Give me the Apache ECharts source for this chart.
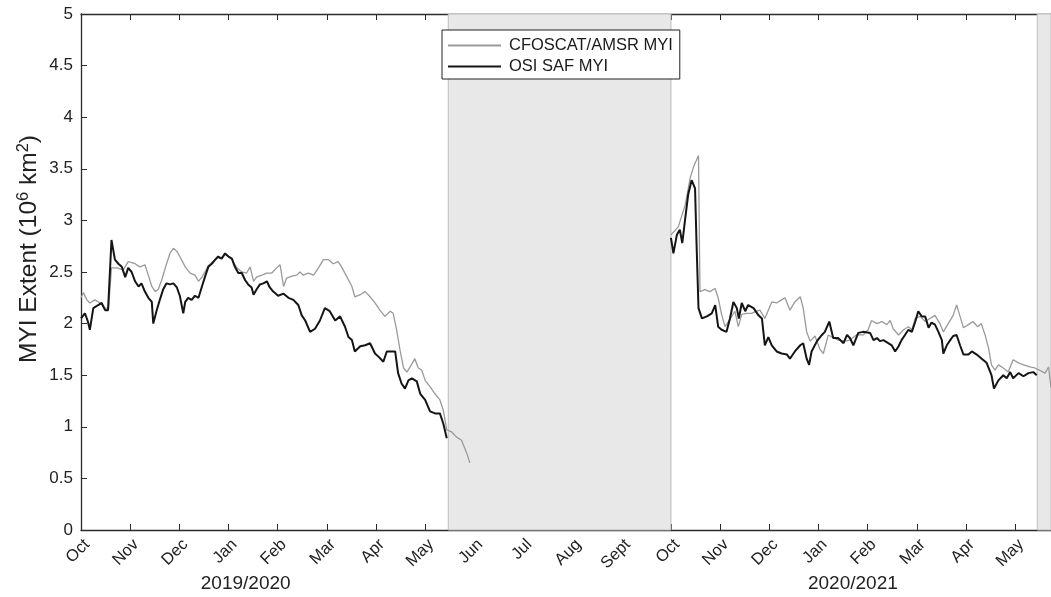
<!DOCTYPE html>
<html>
<head>
<meta charset="utf-8">
<script src="https://cdn.jsdelivr.net/npm/echarts@6/dist/echarts.min.js"></script>
<style>
html,body{margin:0;padding:0;background:#fff;}
#chart{width:1051px;height:597px;}
</style>
</head>
<body>
<div id="chart"></div>
<script>
// x = months since 1 Oct 2019 ; y = MYI extent (10^6 km^2)
const monthLabels = ['Oct','Nov','Dec','Jan','Feb','Mar','Apr','May','Jun','Jul','Aug','Sept','Oct','Nov','Dec','Jan','Feb','Mar','Apr','May'];
const yearLabels = ['2019/2020','2020/2021'];
const yearLabelPos = [3.35, 15.7];
const noDataPeriods = [[7.47, 12.0], [19.45, 19.73]];

const cfoscat1 = [
[0.00,2.25],[0.05,2.30],[0.12,2.23],[0.18,2.20],[0.28,2.23],[0.39,2.20],[0.49,2.15],[0.56,2.15],[0.62,2.54],[0.73,2.54],
[0.86,2.52],[0.96,2.60],[1.10,2.58],[1.20,2.55],[1.30,2.57],[1.37,2.47],[1.44,2.36],[1.51,2.31],[1.57,2.33],[1.64,2.42],
[1.74,2.58],[1.81,2.68],[1.88,2.73],[1.95,2.70],[2.01,2.65],[2.12,2.55],[2.22,2.49],[2.32,2.47],[2.39,2.41],[2.46,2.45],
[2.52,2.50],[2.59,2.56],[2.66,2.59],[2.73,2.62],[2.79,2.64],[2.86,2.63],[2.93,2.67],[3.00,2.65],[3.07,2.62],[3.17,2.54],
[3.27,2.50],[3.37,2.49],[3.44,2.55],[3.51,2.41],[3.57,2.45],[3.68,2.47],[3.78,2.49],[3.88,2.49],[3.98,2.54],[4.05,2.57],
[4.12,2.36],[4.18,2.44],[4.29,2.46],[4.39,2.47],[4.45,2.50],[4.52,2.47],[4.62,2.49],[4.73,2.47],[4.83,2.54],[4.93,2.62],
[5.03,2.62],[5.13,2.58],[5.23,2.60],[5.30,2.55],[5.40,2.46],[5.51,2.36],[5.57,2.26],[5.68,2.28],[5.78,2.31],[5.88,2.26],
[5.98,2.20],[6.08,2.13],[6.18,2.07],[6.29,2.12],[6.35,2.10],[6.42,1.94],[6.49,1.74],[6.56,1.57],[6.63,1.53],[6.73,1.61],
[6.79,1.66],[6.86,1.57],[6.93,1.55],[7.00,1.45],[7.10,1.39],[7.20,1.32],[7.30,1.26],[7.37,1.16],[7.44,0.97],[7.54,0.95],
[7.64,0.90],[7.74,0.87],[7.85,0.74],[7.91,0.65]
];
const osisaf1 = [
[0.00,2.05],[0.08,2.10],[0.14,2.02],[0.18,1.94],[0.25,2.15],[0.35,2.18],[0.42,2.20],[0.49,2.13],[0.55,2.13],[0.62,2.81],
[0.69,2.62],[0.76,2.58],[0.83,2.55],[0.90,2.45],[0.96,2.54],[1.03,2.50],[1.10,2.41],[1.17,2.36],[1.23,2.39],[1.30,2.31],
[1.37,2.25],[1.44,2.21],[1.47,2.00],[1.54,2.13],[1.61,2.24],[1.67,2.33],[1.74,2.39],[1.81,2.38],[1.88,2.39],[1.95,2.35],
[2.01,2.27],[2.08,2.10],[2.12,2.21],[2.18,2.25],[2.25,2.23],[2.32,2.27],[2.39,2.25],[2.46,2.36],[2.52,2.45],[2.59,2.55],
[2.66,2.58],[2.73,2.62],[2.79,2.65],[2.86,2.63],[2.93,2.68],[3.00,2.65],[3.07,2.63],[3.13,2.55],[3.20,2.49],[3.27,2.49],
[3.34,2.42],[3.40,2.38],[3.47,2.35],[3.51,2.28],[3.57,2.33],[3.64,2.38],[3.71,2.39],[3.78,2.41],[3.84,2.35],[3.91,2.31],
[4.01,2.27],[4.05,2.26],[4.12,2.29],[4.22,2.25],[4.32,2.23],[4.42,2.18],[4.49,2.08],[4.56,2.03],[4.66,1.92],[4.76,1.95],
[4.86,2.03],[4.96,2.15],[5.06,2.12],[5.17,2.03],[5.27,2.07],[5.37,1.97],[5.44,1.87],[5.51,1.84],[5.57,1.73],[5.68,1.78],
[5.78,1.79],[5.88,1.81],[5.98,1.71],[6.05,1.68],[6.15,1.63],[6.22,1.73],[6.32,1.73],[6.39,1.73],[6.45,1.52],[6.52,1.42],
[6.59,1.37],[6.66,1.45],[6.73,1.47],[6.83,1.44],[6.90,1.32],[7.00,1.26],[7.10,1.15],[7.20,1.13],[7.30,1.13],[7.37,1.03],
[7.44,0.89]
];
const cfoscat2 = [
[12.00,2.86],[12.15,2.94],[12.29,3.15],[12.39,3.41],[12.46,3.52],[12.56,3.63],[12.59,2.31],[12.69,2.33],[12.79,2.31],[12.90,2.34],
[12.96,2.25],[13.03,2.09],[13.10,1.97],[13.20,2.04],[13.30,2.12],[13.37,1.97],[13.44,2.09],[13.54,2.10],[13.64,2.10],[13.74,2.12],
[13.81,2.13],[13.91,2.05],[14.05,2.21],[14.15,2.20],[14.25,2.23],[14.32,2.25],[14.42,2.13],[14.52,2.21],[14.63,2.26],[14.69,2.15],
[14.76,1.92],[14.83,1.83],[14.93,1.88],[15.03,1.75],[15.10,1.71],[15.20,1.89],[15.27,1.87],[15.40,1.84],[15.54,1.83],[15.64,1.84],
[15.77,1.89],[15.91,1.89],[16.01,1.94],[16.08,2.03],[16.19,2.00],[16.29,2.02],[16.39,1.99],[16.46,2.03],[16.52,1.95],[16.63,1.89],
[16.73,1.94],[16.83,1.97],[16.90,1.94],[16.97,2.05],[17.07,2.07],[17.17,2.02],[17.27,2.05],[17.37,2.08],[17.47,2.00],[17.54,1.92],
[17.64,2.00],[17.74,2.08],[17.81,2.18],[17.88,2.07],[17.95,1.96],[18.05,1.99],[18.14,2.02],[18.24,1.97],[18.31,2.00],[18.39,1.89],
[18.46,1.76],[18.52,1.60],[18.59,1.55],[18.66,1.60],[18.76,1.57],[18.86,1.53],[18.96,1.65],[19.07,1.62],[19.17,1.60],[19.30,1.58],
[19.40,1.57],[19.49,1.55],[19.61,1.52],[19.68,1.58],[19.73,1.38]
];
const osisaf2 = [
[12.00,2.83],[12.05,2.68],[12.12,2.86],[12.18,2.91],[12.23,2.78],[12.29,3.02],[12.35,3.25],[12.42,3.39],[12.49,3.31],[12.52,2.78],
[12.56,2.15],[12.63,2.05],[12.73,2.07],[12.83,2.10],[12.90,2.18],[12.96,1.97],[13.03,1.94],[13.13,1.92],[13.20,2.05],[13.27,2.21],
[13.34,2.15],[13.38,2.05],[13.44,2.20],[13.51,2.12],[13.57,2.18],[13.68,2.15],[13.78,2.08],[13.85,2.05],[13.91,1.79],[13.98,1.87],
[14.05,1.79],[14.15,1.73],[14.25,1.71],[14.36,1.70],[14.42,1.66],[14.52,1.73],[14.63,1.79],[14.69,1.81],[14.76,1.66],[14.81,1.60],
[14.86,1.73],[14.97,1.83],[15.07,1.89],[15.13,1.92],[15.22,2.02],[15.30,1.86],[15.40,1.86],[15.51,1.81],[15.58,1.89],[15.64,1.86],
[15.71,1.79],[15.81,1.91],[15.91,1.92],[16.05,1.91],[16.12,1.84],[16.19,1.86],[16.25,1.83],[16.32,1.84],[16.42,1.81],[16.49,1.79],
[16.56,1.73],[16.63,1.78],[16.69,1.84],[16.76,1.89],[16.83,1.94],[16.90,1.92],[16.97,2.02],[17.03,2.12],[17.10,2.07],[17.17,2.07],
[17.24,1.96],[17.30,2.01],[17.37,1.99],[17.44,1.92],[17.51,1.84],[17.54,1.71],[17.61,1.79],[17.68,1.84],[17.74,1.88],[17.81,1.89],
[17.88,1.79],[17.95,1.70],[18.05,1.70],[18.12,1.73],[18.22,1.70],[18.32,1.66],[18.42,1.62],[18.52,1.50],[18.57,1.37],[18.66,1.45],
[18.76,1.50],[18.83,1.47],[18.90,1.53],[18.96,1.47],[19.07,1.52],[19.17,1.49],[19.27,1.52],[19.37,1.53],[19.44,1.50]
];

const X_MIN = 0, X_MAX = 19.73;
const FONT = '"Liberation Sans", Arial, sans-serif';
const AX = '#2b2b2b';
const GRAY = '#9a9a9a', BLACK = '#151515';

const chart = echarts.init(document.getElementById('chart'), null, {renderer:'canvas'});

chart.setOption({
  animation:false,
  backgroundColor:'#fff',
  grid: {left:81, right:0, top:14, bottom:67, containLabel:false},
  legend: {
    data:['CFOSCAT/AMSR MYI','OSI SAF MYI'],
    orient:'vertical', left:442, top:30,
    backgroundColor:'#fff', borderColor:'#222', borderWidth:1,
    padding:[7,7,4,5], itemGap:4, itemWidth:53, itemHeight:14,
    itemStyle:{opacity:0},
    textStyle:{fontFamily:FONT, fontSize:16.5, color:'#1a1a1a', padding:[0,0,0,3]}
  },
  xAxis: [
    {type:'value', position:'bottom', min:X_MIN, max:X_MAX, interval:1,
     axisLine:{show:true, onZero:false, lineStyle:{color:AX, width:1.3}},
     axisTick:{show:true, inside:true, length:6, lineStyle:{color:AX}},
     splitLine:{show:false},
     axisLabel:{rotate:45, verticalAlign:'top', fontFamily:FONT, fontSize:16.5, color:'#222', margin:6,
       showMaxLabel:false,
       formatter:function(v){ return Number.isInteger(v) && monthLabels[v] ? monthLabels[v] : ''; }}},
    {type:'value', position:'top', min:X_MIN, max:X_MAX, interval:1,
     axisLine:{show:true, onZero:false, lineStyle:{color:AX, width:1.3}},
     axisTick:{show:true, inside:true, length:6, lineStyle:{color:AX}},
     axisLabel:{show:false}, splitLine:{show:false}},
    {type:'value', position:'bottom', offset:37, min:X_MIN, max:X_MAX,
     axisLine:{show:false}, axisTick:{show:false}, splitLine:{show:false},
     axisLabel:{customValues:yearLabelPos, fontFamily:FONT, fontSize:19, color:'#222', margin:7,
       formatter:function(v){ const i = yearLabelPos.indexOf(v); return i>=0 ? yearLabels[i] : ''; }}}
  ],
  yAxis: {
    type:'value', min:0, max:5, interval:0.5,
    name:'MYI Extent (10{s|6} km{s|2})', nameLocation:'middle', nameGap:38, nameRotate:90,
    nameMoveOverlap:false,
    nameTextStyle:{fontFamily:FONT, fontSize:24.5, color:'#222', lineHeight:28, padding:[0,0,0,46],
      rich:{s:{fontFamily:FONT, fontSize:16.5, color:'#222', verticalAlign:'top', lineHeight:28, padding:[0,0,11,0]}}},
    axisLine:{show:true, lineStyle:{color:AX, width:1.3}},
    axisTick:{show:true, inside:true, length:6, lineStyle:{color:AX}},
    splitLine:{show:false},
    axisLabel:{fontFamily:FONT, fontSize:17, color:'#222', margin:8,
      formatter:function(v){ return String(v); }}
  },
  series: [
    {type:'line', name:'shade', data:[], z:1, silent:true,
     markArea:{silent:true, itemStyle:{color:'#e8e8e8', borderColor:'#bdbdbd', borderWidth:1},
       data: noDataPeriods.map(p => [{xAxis:p[0]}, {xAxis:p[1]}])}},
    {type:'line', name:'CFOSCAT/AMSR MYI', data:cfoscat1, symbol:'none', z:3,
     lineStyle:{color:GRAY, width:1.3}, itemStyle:{color:GRAY}},
    {type:'line', name:'CFOSCAT/AMSR MYI', data:cfoscat2, symbol:'none', z:3,
     lineStyle:{color:GRAY, width:1.3}, itemStyle:{color:GRAY}},
    {type:'line', name:'OSI SAF MYI', data:osisaf1, symbol:'none', z:4,
     lineStyle:{color:BLACK, width:2}, itemStyle:{color:BLACK}},
    {type:'line', name:'OSI SAF MYI', data:osisaf2, symbol:'none', z:4,
     lineStyle:{color:BLACK, width:2}, itemStyle:{color:BLACK}}
  ]
});
</script>
</body>
</html>
